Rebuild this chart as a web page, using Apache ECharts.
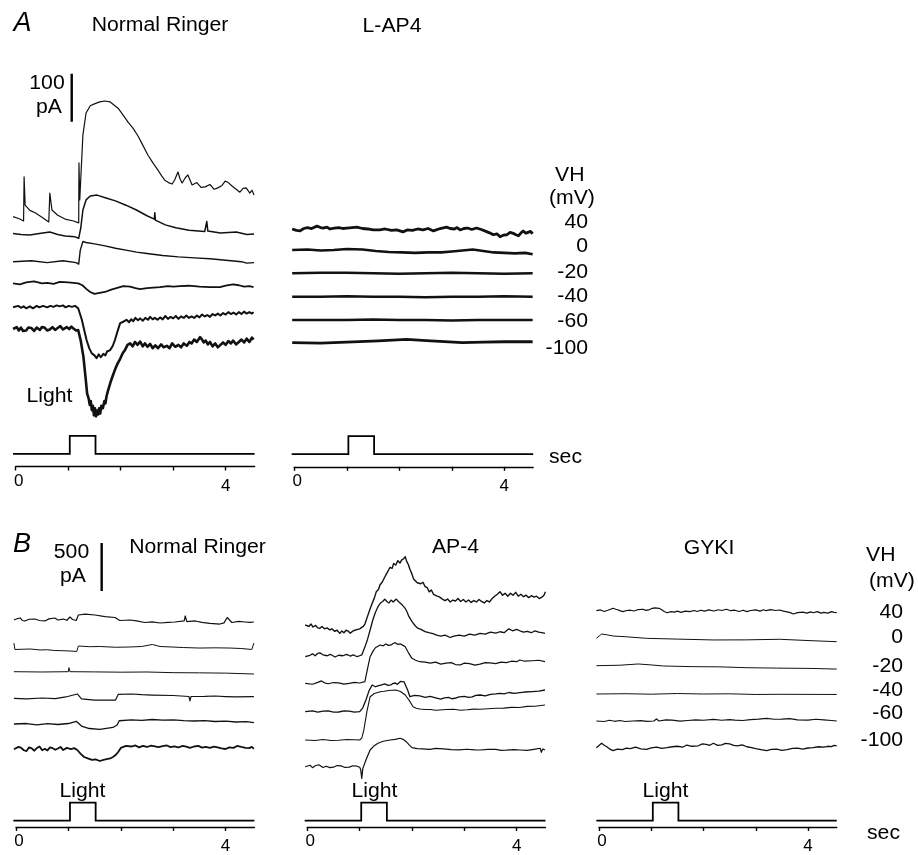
<!DOCTYPE html>
<html><head><meta charset="utf-8">
<script src="https://cdn.jsdelivr.net/npm/echarts@6/dist/echarts.min.js"></script>
<style>html,body{margin:0;padding:0;background:#fff}#c{width:918px;height:855px}</style>
</head><body><div id="c"></div>
<script>
// ---- DATA: time (s), membrane current (pA) relative to each trace's pre-light baseline ----
const holdingPotentials = ['40','0','-20','-40','-60','-100'];
const lightStep = [[-0.05,0],[1.03,0],[1.03,1],[1.52,1],[1.52,0],[4.55,0]];
const timeTicks = [0,1,2,3,4];
const timeLabels = [0,4];
const scaleBarA = 100;  // pA
const scaleBarB = 500;  // pA

// A, Normal Ringer
const aNormal40 = [[-0.05,7],[0.08,2],[0.15,-2],[0.16,90],[0.18,31],[0.27,20],[0.37,15],[0.5,6],[0.63,-4],[0.65,56],[0.69,21],[0.8,10],[0.94,2],[1.1,-2],[1.2,-6],[1.205,119],[1.22,42],[1.28,177],[1.34,223],[1.42,238],[1.5,242],[1.6,246],[1.7,248],[1.8,246],[1.95,233],[2.05,218],[2.14,204],[2.23,192],[2.33,175],[2.42,156],[2.52,135],[2.62,118],[2.71,104],[2.78,92],[2.84,83],[2.91,78],[2.98,75],[3.03,84],[3.09,100],[3.13,86],[3.17,77],[3.23,88],[3.28,94],[3.36,73],[3.45,78],[3.53,68],[3.61,69],[3.7,74],[3.78,64],[3.85,67],[3.93,72],[3.99,81],[4.05,78],[4.12,71],[4.2,64],[4.27,58],[4.33,66],[4.39,67],[4.46,56],[4.5,62],[4.54,52]];
const aNormal0 = [[-0.05,1],[0.1,-1],[0.27,-2],[0.45,1],[0.65,4],[0.8,-1],[0.94,-4],[1.13,-6],[1.2,-9],[1.24,13],[1.28,50],[1.34,71],[1.42,79],[1.55,81],[1.72,75],[1.9,69],[2.1,60],[2.3,50],[2.5,38],[2.64,31],[2.65,44],[2.66,29],[2.85,19],[3.05,13],[3.3,8],[3.6,5],[3.64,26],[3.66,6],[3.9,2],[4.2,4],[4.4,-1],[4.54,0]];
const aNormalM20 = [[-0.05,0],[0.3,2],[0.6,-2],[0.9,2],[1.15,-2],[1.2,-5],[1.23,24],[1.28,42],[1.34,40],[1.5,37],[1.7,33],[1.9,28],[2.1,24],[2.3,20],[2.5,17],[2.8,13],[3.1,10],[3.4,8],[3.7,6],[4.0,3],[4.3,0],[4.4,-3],[4.54,-2]];
const aNormalM40 = [[-0.05,0],[0.08,-2],[0.2,2],[0.35,4],[0.5,0],[0.6,1],[0.72,-1],[0.84,3],[1.0,2],[1.1,1],[1.19,0],[1.27,-4],[1.35,-12],[1.42,-18],[1.5,-22],[1.6,-20],[1.7,-18],[1.82,-13],[1.95,-9],[2.05,-6],[2.18,-7],[2.28,-10],[2.37,-12],[2.5,-10],[2.62,-9],[2.75,-8],[2.9,-6],[3.0,-7],[3.13,-6],[3.3,-5],[3.5,-7],[3.7,-8],[3.89,-8],[4.0,-5],[4.14,-2],[4.25,-4],[4.35,-7],[4.45,-6],[4.53,-8]];
const aNormalM60 = [[-0.05,0],[0.05,3],[0.1,-1],[0.15,2],[0.2,-2],[0.27,2],[0.33,-2],[0.4,3],[0.45,0],[0.52,3],[0.6,0],[0.66,3],[0.72,1],[0.78,4],[0.84,2],[0.9,4],[0.95,0],[1.01,3],[1.07,1],[1.13,3],[1.19,-2],[1.26,-26],[1.3,-45],[1.35,-68],[1.4,-85],[1.45,-96],[1.5,-100],[1.54,-106],[1.58,-98],[1.62,-104],[1.67,-97],[1.71,-100],[1.74,-92],[1.8,-89],[1.85,-80],[1.89,-68],[1.94,-50],[1.99,-33],[2.05,-30],[2.11,-26],[2.16,-31],[2.2,-25],[2.24,-29],[2.28,-22],[2.33,-27],[2.37,-23],[2.42,-28],[2.47,-22],[2.52,-26],[2.56,-20],[2.61,-25],[2.65,-22],[2.7,-26],[2.75,-21],[2.8,-25],[2.85,-18],[2.9,-24],[2.95,-20],[3.0,-23],[3.05,-18],[3.1,-24],[3.15,-19],[3.2,-22],[3.25,-17],[3.3,-22],[3.35,-19],[3.4,-22],[3.45,-17],[3.5,-21],[3.55,-15],[3.6,-19],[3.65,-16],[3.7,-20],[3.75,-14],[3.8,-17],[3.85,-13],[3.9,-17],[3.95,-12],[4.0,-15],[4.05,-10],[4.1,-14],[4.15,-11],[4.2,-15],[4.25,-10],[4.3,-14],[4.35,-9],[4.4,-13],[4.45,-10],[4.5,-13],[4.53,-10]];
const aNormalM100 = [[-0.05,0],[0.02,4],[0.06,-3],[0.1,3],[0.14,-4],[0.2,-3],[0.24,3],[0.3,2],[0.35,-4],[0.4,3],[0.46,-2],[0.5,4],[0.55,3],[0.6,-3],[0.65,-1],[0.7,4],[0.75,-2],[0.8,2],[0.85,6],[0.9,-1],[0.97,4],[1.02,0],[1.06,5],[1.1,1],[1.15,-3],[1.19,-2],[1.24,-25],[1.29,-58],[1.33,-100],[1.36,-134],[1.39,-145],[1.41,-158],[1.43,-150],[1.45,-169],[1.47,-160],[1.49,-180],[1.51,-165],[1.53,-182],[1.55,-170],[1.57,-178],[1.59,-165],[1.61,-176],[1.63,-160],[1.66,-165],[1.69,-150],[1.71,-155],[1.73,-140],[1.76,-128],[1.8,-113],[1.84,-100],[1.89,-85],[1.94,-72],[1.99,-62],[2.04,-50],[2.08,-44],[2.13,-33],[2.18,-30],[2.23,-36],[2.27,-27],[2.32,-33],[2.37,-26],[2.42,-36],[2.46,-30],[2.51,-37],[2.56,-31],[2.61,-40],[2.66,-34],[2.71,-40],[2.77,-32],[2.82,-38],[2.88,-35],[2.93,-40],[2.98,-30],[3.04,-37],[3.1,-33],[3.15,-38],[3.2,-30],[3.26,-35],[3.31,-27],[3.35,-30],[3.4,-22],[3.45,-27],[3.51,-17],[3.55,-22],[3.58,-28],[3.62,-24],[3.66,-32],[3.7,-27],[3.75,-36],[3.8,-30],[3.85,-38],[3.89,-34],[3.95,-28],[4.0,-33],[4.05,-25],[4.1,-30],[4.14,-24],[4.2,-32],[4.25,-27],[4.3,-22],[4.35,-28],[4.4,-20],[4.45,-27],[4.5,-18],[4.53,-22]];

// A, L-AP4
const lap40 = [[-0.04,0],[0.04,-3],[0.11,-4],[0.18,1],[0.25,3],[0.33,1],[0.43,6],[0.5,3],[0.55,2],[0.62,4],[0.68,0],[0.76,2],[0.85,3],[0.92,1],[1.0,2],[1.1,3],[1.19,4],[1.3,1],[1.4,0],[1.5,-2],[1.63,-2],[1.73,0],[1.85,-3],[1.95,-2],[2.07,-6],[2.15,-2],[2.25,-3],[2.35,0],[2.45,-2],[2.55,1],[2.65,-4],[2.78,1],[2.9,4],[2.97,1],[3.05,0],[3.1,3],[3.16,-2],[3.23,1],[3.3,2],[3.38,-1],[3.47,2],[3.56,-1],[3.65,-5],[3.72,-8],[3.79,-12],[3.86,-10],[3.92,-16],[3.98,-13],[4.05,-12],[4.11,-7],[4.17,-9],[4.22,-12],[4.27,-14],[4.32,-8],[4.36,-4],[4.41,-9],[4.45,-7],[4.5,-5],[4.54,-10]];
const lap0 = [[-0.04,0],[0.25,1],[0.5,-1],[0.75,0],[1.0,2],[1.3,1],[1.55,-2],[1.8,-4],[2.05,-5],[2.3,-6],[2.55,-5],[2.8,-5],[3.0,-3],[3.2,-1],[3.4,1],[3.6,-2],[3.8,-5],[4.0,-6],[4.2,-7],[4.4,-6],[4.54,-9]];
const lapM20 = [[-0.04,0],[0.5,1],[1.0,1],[1.5,0],[2.0,-1],[2.5,0],[3.0,1],[3.5,0],[4.0,-1],[4.54,0]];
const lapM40 = [[-0.04,0],[0.5,0],[1.0,1],[1.5,0],[2.0,0],[2.5,-1],[3.0,0],[3.5,0],[4.0,1],[4.54,0]];
const lapM60 = [[-0.04,0],[0.5,0],[1.0,0],[1.5,1],[2.0,0],[2.5,0],[3.0,-1],[3.5,0],[4.0,0],[4.54,0]];
const lapM100 = [[-0.04,0],[0.5,-1],[1.0,1],[1.6,4],[2.14,7],[2.6,4],[3.2,0],[3.6,1],[4.0,2],[4.54,2]];

// B, Normal Ringer
const bNormal40 = [[-0.04,0],[0.03,15],[0.08,21],[0.12,-5],[0.17,-10],[0.25,8],[0.36,10],[0.45,-5],[0.55,-10],[0.63,12],[0.74,21],[0.8,0],[0.9,10],[0.97,-3],[1.03,31],[1.08,5],[1.15,-5],[1.19,52],[1.32,62],[1.51,52],[1.7,36],[1.89,26],[1.98,-5],[2.18,0],[2.3,-10],[2.46,-26],[2.6,-20],[2.75,-31],[2.9,-24],[3.03,-21],[3.21,-10],[3.23,42],[3.26,-16],[3.42,-10],[3.55,-25],[3.7,-36],[3.89,-42],[3.97,-30],[4.03,26],[4.12,-26],[4.25,-15],[4.37,-21],[4.47,-25],[4.54,-21]];
const bNormal0 = [[-0.04,62],[-0.02,-5],[0.1,-3],[0.27,0],[0.46,-10],[0.6,-8],[0.74,-16],[0.9,-18],[1.03,-21],[1.16,-26],[1.19,31],[1.4,24],[1.6,26],[1.9,18],[2.18,21],[2.4,26],[2.6,47],[2.75,26],[3.0,20],[3.2,15],[3.51,10],[3.8,12],[4.08,10],[4.3,5],[4.5,-5],[4.54,62]];
const bNormalM20 = [[-0.04,0],[0.5,-3],[1.0,0],[1.01,42],[1.03,0],[1.5,-2],[2.0,-5],[2.5,-3],[3.0,-10],[3.5,-12],[4.0,-15],[4.54,-24]];
const bNormalM40 = [[-0.04,0],[0.2,-5],[0.5,3],[0.75,-3],[0.95,14],[1.17,45],[1.25,-7],[1.5,-18],[1.9,-18],[1.95,40],[2.2,45],[2.4,38],[2.6,34],[3.0,29],[3.3,19],[3.32,-28],[3.34,19],[3.6,20],[3.8,24],[4.0,18],[4.2,14],[4.54,17]];
const bNormalM60 = [[-0.04,0],[0.2,5],[0.4,-10],[0.6,3],[0.8,-5],[1.0,5],[1.15,28],[1.25,-21],[1.4,-47],[1.6,-55],[1.85,-36],[1.93,-10],[1.97,34],[2.2,42],[2.4,38],[2.6,47],[2.8,40],[3.0,42],[3.2,35],[3.4,31],[3.6,36],[3.8,26],[4.0,30],[4.2,21],[4.4,25],[4.54,14]];
const bNormalM100 = [[-0.04,0],[0.05,25],[0.1,15],[0.15,-10],[0.2,-18],[0.25,20],[0.3,10],[0.35,-15],[0.4,14],[0.45,30],[0.5,-10],[0.55,5],[0.6,-12],[0.65,20],[0.7,12],[0.75,-5],[0.8,8],[0.85,25],[0.9,-8],[0.97,15],[1.05,3],[1.11,12],[1.17,-7],[1.23,-45],[1.3,-80],[1.37,-95],[1.45,-111],[1.52,-105],[1.6,-122],[1.67,-110],[1.75,-101],[1.8,-95],[1.85,-80],[1.9,-60],[1.95,-28],[2.0,14],[2.1,35],[2.2,29],[2.28,40],[2.35,20],[2.42,35],[2.5,24],[2.58,38],[2.65,30],[2.72,22],[2.8,34],[2.88,40],[2.95,22],[3.02,30],[3.1,19],[3.18,35],[3.25,28],[3.32,15],[3.4,29],[3.48,35],[3.55,18],[3.62,25],[3.7,14],[3.78,28],[3.85,20],[3.92,10],[4.0,3],[4.07,20],[4.15,15],[4.22,35],[4.3,24],[4.38,15],[4.45,12],[4.5,25],[4.54,6]];

// B, AP-4
const bAp40 = [[-0.04,0],[0.03,-15],[0.07,10],[0.11,-21],[0.16,-5],[0.2,-30],[0.24,-34],[0.28,-15],[0.33,-40],[0.38,-30],[0.43,-52],[0.47,-40],[0.52,-65],[0.57,-55],[0.62,-87],[0.66,-62],[0.7,-80],[0.74,-55],[0.78,-63],[0.82,-85],[0.85,-70],[0.88,-60],[0.91,-72],[0.96,-45],[1.0,-40],[1.03,-25],[1.07,-15],[1.1,10],[1.15,90],[1.2,170],[1.24,226],[1.28,280],[1.32,350],[1.36,370],[1.39,420],[1.43,445],[1.48,500],[1.52,540],[1.55,570],[1.58,600],[1.62,590],[1.65,640],[1.69,625],[1.73,670],[1.77,645],[1.8,675],[1.84,690],[1.87,712],[1.9,660],[1.93,630],[1.96,580],[2.0,530],[2.03,480],[2.06,469],[2.1,440],[2.13,460],[2.17,430],[2.21,445],[2.25,400],[2.29,390],[2.33,345],[2.37,365],[2.41,320],[2.44,330],[2.48,300],[2.53,290],[2.58,270],[2.63,255],[2.68,270],[2.73,240],[2.78,260],[2.83,250],[2.88,275],[2.93,245],[2.98,265],[3.03,240],[3.08,260],[3.13,235],[3.18,255],[3.23,240],[3.28,265],[3.33,245],[3.38,230],[3.43,255],[3.48,240],[3.53,275],[3.58,300],[3.63,320],[3.68,347],[3.73,310],[3.78,330],[3.83,300],[3.88,330],[3.93,310],[3.98,340],[4.03,300],[4.08,320],[4.13,295],[4.18,310],[4.23,285],[4.28,305],[4.33,290],[4.38,300],[4.43,275],[4.48,290],[4.52,310],[4.55,347]];
const bAp0 = [[-0.04,0],[0.05,15],[0.1,30],[0.15,10],[0.2,35],[0.24,40],[0.3,20],[0.38,10],[0.44,25],[0.53,-3],[0.6,15],[0.68,10],[0.75,25],[0.82,7],[0.88,20],[0.95,0],[1.0,10],[1.04,18],[1.1,100],[1.15,180],[1.2,278],[1.25,380],[1.3,460],[1.35,521],[1.4,560],[1.44,575],[1.48,600],[1.52,575],[1.56,560],[1.6,590],[1.64,570],[1.7,600],[1.74,575],[1.77,556],[1.82,535],[1.87,504],[1.91,460],[1.94,420],[2.0,365],[2.05,330],[2.1,300],[2.17,285],[2.25,261],[2.32,250],[2.4,240],[2.47,225],[2.55,215],[2.63,225],[2.73,200],[2.8,215],[2.9,225],[3.0,215],[3.1,235],[3.2,225],[3.3,244],[3.4,235],[3.5,255],[3.6,245],[3.68,260],[3.76,250],[3.85,290],[3.92,270],[4.0,285],[4.06,270],[4.13,255],[4.2,265],[4.28,250],[4.35,270],[4.42,255],[4.48,250],[4.54,244]];
const bApM20 = [[-0.04,0],[0.1,-10],[0.2,10],[0.27,25],[0.33,5],[0.4,-5],[0.5,8],[0.6,5],[0.7,-8],[0.8,0],[0.9,10],[1.0,3],[1.1,17],[1.15,150],[1.2,277],[1.25,330],[1.3,370],[1.35,385],[1.39,399],[1.45,390],[1.5,410],[1.55,395],[1.6,400],[1.64,415],[1.68,423],[1.73,405],[1.78,410],[1.83,395],[1.87,381],[1.93,320],[2.0,260],[2.07,240],[2.15,225],[2.25,220],[2.35,210],[2.45,220],[2.55,200],[2.65,210],[2.75,215],[2.83,195],[2.92,191],[3.0,210],[3.1,205],[3.2,190],[3.3,200],[3.4,215],[3.49,212],[3.6,205],[3.7,220],[3.8,215],[3.9,230],[4.0,225],[4.06,243],[4.15,230],[4.3,235],[4.42,240],[4.54,225]];
const bApM40 = [[-0.04,0],[0.1,8],[0.2,-5],[0.3,5],[0.4,8],[0.5,-5],[0.6,-3],[0.7,8],[0.8,5],[0.9,-5],[1.0,0],[1.06,40],[1.12,122],[1.18,220],[1.24,278],[1.3,260],[1.35,270],[1.42,280],[1.48,289],[1.54,275],[1.6,280],[1.64,295],[1.68,299],[1.72,285],[1.75,300],[1.78,315],[1.81,330],[1.85,310],[1.88,290],[1.92,220],[1.96,156],[2.05,170],[2.15,164],[2.25,150],[2.35,160],[2.45,145],[2.55,130],[2.62,145],[2.7,150],[2.76,135],[2.82,140],[2.9,155],[3.0,160],[3.08,150],[3.15,155],[3.22,170],[3.3,174],[3.4,165],[3.5,180],[3.6,185],[3.68,192],[3.76,185],[3.85,200],[3.95,190],[4.06,198],[4.15,205],[4.3,210],[4.42,215],[4.54,226]];
const bApM60 = [[-0.04,0],[0.15,-5],[0.3,5],[0.45,-5],[0.6,-3],[0.75,5],[0.9,3],[1.0,0],[1.04,20],[1.08,104],[1.14,300],[1.2,451],[1.28,485],[1.39,503],[1.47,508],[1.55,515],[1.62,518],[1.69,521],[1.78,505],[1.87,469],[1.95,410],[2.02,347],[2.08,330],[2.15,323],[2.25,318],[2.35,318],[2.45,310],[2.53,313],[2.65,318],[2.8,320],[2.92,310],[3.05,315],[3.18,322],[3.3,320],[3.45,325],[3.6,330],[3.75,332],[3.9,340],[4.05,338],[4.2,350],[4.35,352],[4.54,365]];
const bApM100 = [[-0.04,0],[0.05,15],[0.1,-10],[0.15,10],[0.22,20],[0.3,-8],[0.36,5],[0.43,-10],[0.5,-5],[0.57,12],[0.65,8],[0.72,-8],[0.8,-5],[0.87,10],[0.95,5],[1.0,-6],[1.02,-30],[1.04,-121],[1.06,-20],[1.12,70],[1.2,174],[1.27,215],[1.35,244],[1.45,265],[1.58,278],[1.68,285],[1.77,296],[1.83,285],[1.89,261],[1.95,225],[2.0,198],[2.1,188],[2.2,185],[2.34,181],[2.45,190],[2.6,185],[2.75,178],[2.9,175],[3.05,182],[3.2,176],[3.3,174],[3.45,180],[3.6,180],[3.7,170],[3.8,172],[3.95,178],[4.06,174],[4.2,170],[4.3,178],[4.38,185],[4.45,192],[4.47,150],[4.5,185],[4.54,174]];

// B, GYKI
const gy40 = [[-0.05,0],[0.03,8],[0.1,-8],[0.17,5],[0.22,15],[0.27,25],[0.32,15],[0.36,10],[0.41,-2],[0.46,-10],[0.53,2],[0.6,5],[0.67,-3],[0.75,12],[0.84,15],[0.9,4],[0.95,8],[1.02,25],[1.07,30],[1.1,42],[1.15,25],[1.2,10],[1.25,-8],[1.3,-21],[1.38,-10],[1.44,-15],[1.5,-5],[1.57,-18],[1.65,-5],[1.74,-10],[1.82,2],[1.88,-8],[1.95,5],[2.02,-5],[2.1,8],[2.2,-3],[2.28,10],[2.35,2],[2.44,15],[2.52,0],[2.6,5],[2.68,-8],[2.76,5],[2.83,-10],[2.9,2],[3.0,8],[3.08,-5],[3.15,10],[3.2,0],[3.28,12],[3.38,2],[3.46,7],[3.53,-5],[3.6,-12],[3.66,-20],[3.72,-34],[3.8,-20],[3.9,-15],[3.98,-25],[4.05,-12],[4.1,-21],[4.18,-10],[4.25,-25],[4.3,-18],[4.38,-25],[4.45,-10],[4.5,-18],[4.55,-21]];
const gy0 = [[-0.05,-17],[0.05,28],[0.15,20],[0.27,7],[0.5,0],[0.91,-17],[1.5,-25],[2.19,-34],[2.8,-33],[3.46,-27],[4.0,-40],[4.55,-52]];
const gyM20 = [[-0.05,0],[0.4,5],[0.75,18],[1.0,8],[1.23,-3],[1.8,-10],[2.3,-12],[2.83,-21],[3.4,-25],[4.0,-28],[4.55,-35]];
const gyM40 = [[-0.05,0],[0.5,3],[1.0,-2],[1.5,5],[2.0,0],[2.5,2],[3.0,-5],[3.5,-3],[4.0,-4],[4.55,-5]];
const gyM60 = [[-0.05,0],[0.1,-5],[0.2,8],[0.3,-3],[0.4,5],[0.5,-5],[0.65,0],[0.8,3],[0.92,-3],[1.05,0],[1.1,21],[1.15,0],[1.28,12],[1.4,10],[1.55,-2],[1.7,5],[1.85,12],[2.0,8],[2.19,17],[2.35,8],[2.5,15],[2.6,10],[2.75,5],[2.9,15],[3.05,20],[3.21,28],[3.35,18],[3.5,20],[3.65,25],[3.8,12],[4.0,10],[4.15,18],[4.3,12],[4.45,5],[4.55,0]];
const gyM100 = [[-0.05,0],[0.05,46],[0.1,25],[0.15,10],[0.21,-15],[0.27,-31],[0.35,-15],[0.45,-20],[0.52,-5],[0.6,-10],[0.7,5],[0.8,-12],[0.91,-17],[1.0,-2],[1.1,5],[1.2,-8],[1.3,0],[1.4,10],[1.5,15],[1.6,5],[1.68,28],[1.78,15],[1.9,20],[1.98,40],[2.05,35],[2.12,25],[2.19,46],[2.27,25],[2.35,30],[2.42,45],[2.5,40],[2.58,25],[2.65,20],[2.74,30],[2.83,10],[2.92,0],[3.0,-10],[3.1,-20],[3.21,-31],[3.3,-18],[3.4,-15],[3.5,-28],[3.6,-20],[3.7,-8],[3.8,-5],[3.9,-15],[4.0,-3],[4.1,0],[4.2,10],[4.3,5],[4.38,15],[4.45,12],[4.5,25],[4.55,18]];

// ---- LAYOUT ----
const FONT = '"Liberation Sans", Arial, Helvetica, sans-serif';
const panels = [
  {x0:15.7, pxs:52.5, top:60, h:380, pApx:100/48, traces:[aNormal40,aNormal0,aNormalM20,aNormalM40,aNormalM60,aNormalM100],
   stack:[458.3,429.2,371.5,326.4,276.4,231.2], widths:[1.2,1.5,1.4,1.8,2.0,2.6], lightBase:453.8, axisY:466.5,
   bar:{value:scaleBarA, t:1.067, base:663}},
  {x0:294.3, pxs:52.5, top:60, h:380, pApx:100/48, traces:[lap40,lap0,lapM20,lapM40,lapM60,lapM100],
   stack:[439.6,395.8,347.3,298.5,250,202.7], widths:[2.8,2.6,2.6,2.6,2.7,2.8], lightBase:454.2, axisY:466.8},
  {x0:16, pxs:52.4, top:540, h:250, pApx:500/48, traces:[bNormal40,bNormal0,bNormalM20,bNormalM40,bNormalM60,bNormalM100],
   stack:[1770.8,1468.8,1232.3,955.2,687.5,424.0], widths:[1.2,1.0,1.0,1.2,1.3,1.8], lightBase:820.7, axisY:832.5,
   bar:{value:scaleBarB, t:1.635, base:2073}},
  {x0:307.3, pxs:52.35, top:540, h:250, pApx:500/48, traces:[bAp40,bAp0,bApM20,bApM40,bApM60,bApM100],
   stack:[1718.8,1388.5,1111.5,815.6,520.8,242.7], widths:[1.4,1.3,1.2,1.3,1.1,1.2], lightBase:820.7, axisY:832.5},
  {x0:599, pxs:52.25, top:540, h:250, pApx:500/48, traces:[gy40,gy0,gyM20,gyM40,gyM60,gyM100],
   stack:[1867.7,1596.9,1294.8,1000,718.8,440.6], widths:[1.2,1.0,1.0,1.0,1.2,1.3], lightBase:820.7, axisY:832.5}
];

const grid = [], xAxis = [], yAxis = [], series = [];
const TMIN = -0.1, TMAX = 4.6, AXMAX = 4.55;
const labelRich = {
  z:{fontSize:17, fontFamily:FONT, color:'#000', padding:[0,0,0,6]},
  f:{fontSize:17, fontFamily:FONT, color:'#000', padding:[5,0,0,0]}
};
panels.forEach(p => {
  const left = p.x0 + TMIN * p.pxs, width = (TMAX - TMIN) * p.pxs;
  let gi = grid.length;
  grid.push({left, top:p.top, width, height:p.h});
  xAxis.push({type:'value', gridIndex:gi, min:TMIN, max:TMAX, show:false});
  yAxis.push({type:'value', gridIndex:gi, min:0, max:p.h * p.pApx, show:false});
  p.traces.forEach((tr, k) => {
    series.push({type:'line', xAxisIndex:gi, yAxisIndex:gi, silent:true, symbol:'none', animation:false,
      lineStyle:{color:'#111', width:p.widths[k], join:'round'},
      data: tr.map(d => [d[0], d[1] + p.stack[k]])});
  });
  if (p.bar) {
    series.push({type:'line', xAxisIndex:gi, yAxisIndex:gi, silent:true, symbol:'none', animation:false,
      lineStyle:{color:'#000', width:2.4},
      data:[[p.bar.t, p.bar.base],[p.bar.t, p.bar.base + p.bar.value]]});
  }
  gi = grid.length;
  grid.push({left, top:p.lightBase - 27, width, height:36});
  xAxis.push({type:'value', gridIndex:gi, min:TMIN, max:TMAX, show:false});
  yAxis.push({type:'value', gridIndex:gi, min:-0.5, max:1.5, show:false});
  series.push({type:'line', xAxisIndex:gi, yAxisIndex:gi, silent:true, symbol:'none', animation:false,
    lineStyle:{color:'#000', width:1.8, join:'miter'}, data:lightStep});
  gi = grid.length;
  grid.push({left:p.x0, top:p.axisY - 10, width:AXMAX * p.pxs, height:10});
  xAxis.push({type:'value', gridIndex:gi, min:0, max:AXMAX, position:'bottom',
    axisLine:{show:true, lineStyle:{color:'#000', width:1.4}},
    axisTick:{show:true, length:4, inside:false, customValues:timeTicks, lineStyle:{color:'#000', width:1.4}},
    axisLabel:{show:true, customValues:timeLabels, color:'#000', fontSize:17, fontFamily:FONT, margin:6,
      formatter: v => (v === timeLabels[0] ? '{z|' + v + '}' : '{f|' + v + '}'), rich:labelRich},
    splitLine:{show:false}});
  yAxis.push({type:'value', gridIndex:gi, min:0, max:1, show:false});
});

function txt(text, x, y, opt) {
  opt = opt || {};
  return {type:'text', x, y, silent:true, scaleX: opt.sx || 1.06,
    style:{text, fill:'#000', fontSize: opt.size || 20, fontFamily: FONT, fontStyle: opt.italic ? 'italic' : 'normal',
      align: opt.align || 'center', verticalAlign:'middle', textAlign: opt.align || 'center', textVerticalAlign:'middle'}};
}
const graphics = [
  txt('A', 22.5, 23, {size:27, italic:true, sx:1}),
  txt('Normal Ringer', 160, 25),
  txt('L-AP4', 392, 26),
  txt('100', 47, 83),
  txt('pA', 49, 107),
  txt('Light', 49.5, 396),
  txt('VH', 555, 175, {align:'left'}),
  txt('(mV)', 549, 198, {align:'left'}),
  txt('sec', 549, 457, {align:'left'}),
  txt('B', 22, 544, {size:27, italic:true, sx:1}),
  txt('500', 71.5, 552),
  txt('pA', 73, 576),
  txt('Normal Ringer', 197.5, 547.5),
  txt('AP-4', 455.5, 547.5),
  txt('GYKI', 709, 548.5),
  txt('Light', 82.5, 791.5),
  txt('Light', 374.5, 791.5),
  txt('Light', 665.5, 791.5),
  txt('VH', 866, 555, {align:'left'}),
  txt('(mV)', 869, 581, {align:'left'}),
  txt('sec', 867, 833, {align:'left'})
];
const vhA = [222.7, 246.7, 272.7, 296.7, 321.7, 348.3];
const vhB = [612.3, 637.3, 666.3, 690, 713.3, 740];
holdingPotentials.forEach((v, i) => {
  graphics.push(txt(v, 588, vhA[i], {align:'right'}));
  graphics.push(txt(v, 903, vhB[i], {align:'right'}));
});

const chart = echarts.init(document.getElementById('c'), null, {renderer:'canvas'});
chart.setOption({backgroundColor:'#fff', animation:false, grid, xAxis, yAxis, series, graphic:{elements:graphics}});
</script></body></html>
